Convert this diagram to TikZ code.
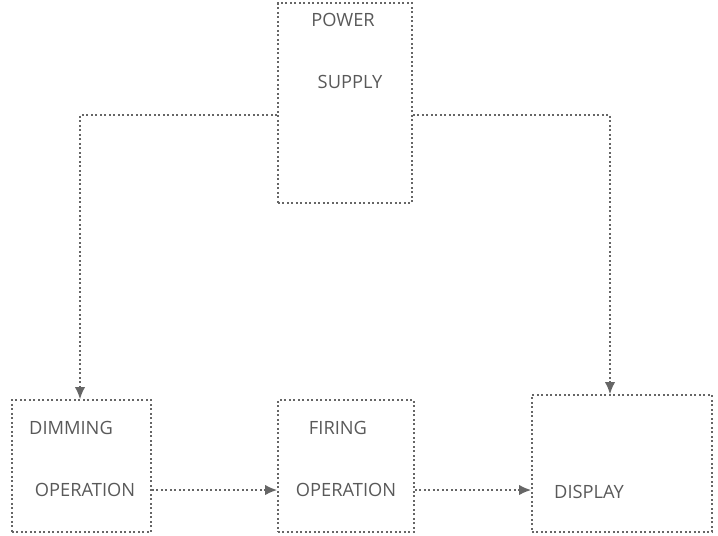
\documentclass[tikz,border=0pt]{standalone}
\usepackage{fontspec}
\setmainfont{Open Sans}
\usetikzlibrary{arrows.meta, positioning}

\begin{document}
\begin{tikzpicture}[x=0.025cm, y=-0.025cm,
  box/.style={draw=black!60, dotted, very thick, inner sep=0pt},
  lbl/.style={font=\fontsize{13}{15}\selectfont, text=black!65},
  conn/.style={draw=black!60, dotted, very thick, -{Latex[length=3mm, width=2.6mm]}}]
  \useasboundingbox (0,0) rectangle (718,535);

  % Blocks
  \node[box, minimum width=3.35cm, minimum height=5cm] (power) at (345,103) {};
  \node[box, minimum width=3.475cm, minimum height=3.3cm] (dim) at (81.5,466) {};
  \node[box, minimum width=3.4cm, minimum height=3.3cm] (fire) at (346,466) {};
  \node[box, minimum width=4.5cm, minimum height=3.425cm] (disp) at (622,463.5) {};

  % Labels
  \node[lbl] (powerA) at (343,20) {POWER};
  \node[lbl] (powerB) at (350,82) {SUPPLY};
  \node[lbl] (dimA) at (71,428) {DIMMING};
  \node[lbl] (dimB) at (85,490) {OPERATION};
  \node[lbl] (fireA) at (338,428) {FIRING};
  \node[lbl] (fireB) at (346,490) {OPERATION};
  \node[lbl] (dispA) at (589,492) {DISPLAY};

  % Connections
  \draw[conn] (power.west |- 0,115) -| (dim.north -| 80,0);
  \draw[conn] (power.east |- 0,115) -| (disp.north -| 610,0);
  \draw[conn] (dim.east |- 0,490) -- (fire.west |- 0,490);
  \draw[conn] (fire.east |- 0,490) -- (disp.west |- 0,490);
\end{tikzpicture}
\end{document}
